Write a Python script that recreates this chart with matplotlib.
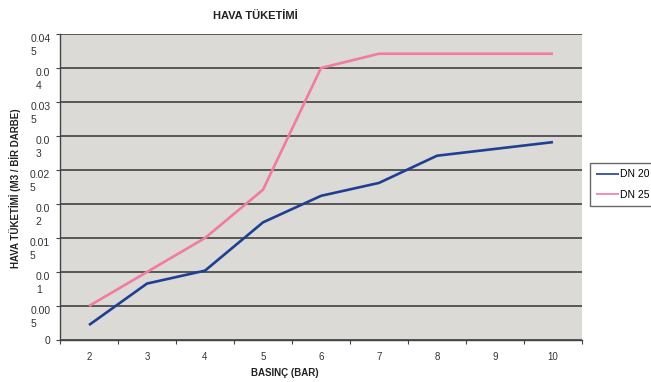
import matplotlib
matplotlib.use("Agg")
import matplotlib.pyplot as plt

plt.rcParams['font.family'] = ['Liberation Sans', 'DejaVu Sans']

# Pressure steps (bar) and air consumption per stroke (m3)
pressures = [2, 3, 4, 5, 6, 7, 8, 9, 10]
dn20 = [0.0022, 0.0083, 0.0102, 0.0173, 0.0212, 0.0231, 0.0271, 0.0281, 0.0291]
dn25 = [0.0050, 0.0100, 0.0150, 0.0221, 0.0400, 0.0421, 0.0421, 0.0421, 0.0421]
series_names = ['DN 20', 'DN 25']
y_ticks = [0, 0.005, 0.01, 0.015, 0.02, 0.025, 0.03, 0.035, 0.04, 0.045]
y_tick_labels = ['0', '0.00\n5', '0.0\n1', '0.01\n5', '0.0\n2', '0.02\n5',
                 '0.0\n3', '0.03\n5', '0.0\n4', '0.04\n5']

BLUE = '#1f3f92'
PINK = '#f27ba1'

fig = plt.figure(figsize=(6.51, 3.82), dpi=100)
ax = fig.add_axes([60 / 651, 1 - 340 / 382, 522 / 651, 306 / 382])
ax.set_facecolor('#dcdad6')

ax.plot(pressures, dn20, color=BLUE, lw=1.9, label=series_names[0], solid_capstyle='butt')
ax.plot(pressures, dn25, color=PINK, lw=1.9, label=series_names[1], solid_capstyle='butt')

ax.set_xlim(1.5, 10.5)
ax.set_ylim(0, 0.045)

# category boundaries carry the tick marks, labels sit in the middle
ax.set_xticks([p - 0.5 for p in pressures] + [pressures[-1] + 0.5])
ax.set_xticklabels([])
ax.set_xticks(pressures, minor=True)
ax.set_xticklabels([str(p) for p in pressures], minor=True)
ax.tick_params(axis='x', which='major', length=3, direction='out', color='#444444', width=0.8)
ax.tick_params(axis='x', which='minor', length=0, pad=9, labelsize=7, labelcolor='#333333')

ax.set_yticks(y_ticks)
ax.set_yticklabels(y_tick_labels)
ax.tick_params(axis='y', length=3, direction='out', color='#444444', width=0.8,
               labelsize=7.5, labelcolor='#333333', pad=4)
for lab in ax.get_yticklabels():
    lab.set_multialignment('left')
    lab.set_linespacing(1.4)
    if '\n' in lab.get_text():
        lab.set_va('top')

ax.grid(axis='y', color='#333333', lw=1.1)
ax.set_axisbelow(True)
for side in ('top', 'right'):
    ax.spines[side].set_visible(False)
for side in ('left', 'bottom'):
    ax.spines[side].set_color('#444444')
    ax.spines[side].set_linewidth(1.0)

fig.text(255 / 651, 1 - 16 / 382, 'HAVA TÜKETİMİ', ha='center', va='center',
         fontsize=8, fontweight='bold', color='#222222')
fig.text(285 / 651, 1 - 373 / 382, 'BASINÇ (BAR)', ha='center', va='center',
         fontsize=7, fontweight='bold', color='#222222')
fig.text(15 / 651, 1 - 188 / 382, 'HAVA TÜKETİMİ (M3 / BİR DARBE)', ha='center',
         va='center', rotation=90, fontsize=7, fontweight='bold', color='#222222')

leg = fig.legend(loc='upper left', bbox_to_anchor=(590 / 651, 1 - 163 / 382),
                 frameon=True, fancybox=False, fontsize=7.5, handlelength=2.2,
                 handletextpad=0.1, borderpad=0.6, labelspacing=1.0, borderaxespad=0)
leg.get_frame().set_edgecolor('#444444')
leg.get_frame().set_linewidth(1.0)
for line in leg.get_lines():
    line.set_linewidth(1.2)

fig.savefig('out.png', dpi=100)
